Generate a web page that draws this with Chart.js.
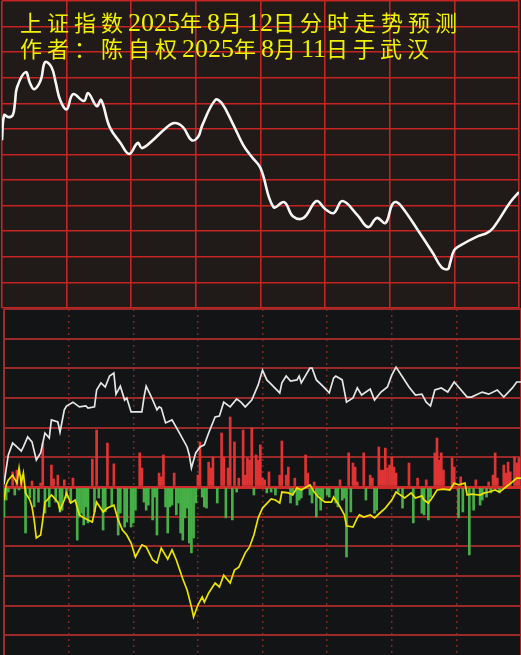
<!DOCTYPE html>
<html><head><meta charset="utf-8">
<script src="https://cdn.jsdelivr.net/npm/chart.js@4.4.1/dist/chart.umd.min.js"></script>
<style>
html,body{margin:0;padding:0;width:521px;height:655px;overflow:hidden;
  background:linear-gradient(#201a19 0px,#201a19 309px,#131416 309px,#131416 100%);}
#topChart{position:absolute;left:0;top:0;}
#bottomChart{position:absolute;left:0;top:308px;}
#title{position:absolute;left:20px;top:9px;z-index:5;color:#f0f000;
  font-family:"Noto Sans CJK SC",sans-serif;font-size:22px;line-height:25px;
  letter-spacing:5px;white-space:nowrap;}
#title .n{font-family:"Liberation Serif",serif;font-size:26px;letter-spacing:0;}
</style></head>
<body>
<div id="title"></div>
<canvas id="topChart" width="521" height="310"></canvas>
<canvas id="bottomChart" width="521" height="358"></canvas>
<script>
// ---- text ----
const titleLines = ["上证指数2025年8月12日分时走势预测", "作者：陈自权2025年8月11日于武汉"];

// ---- top panel: predicted intraday curve (minute 0..240, grid units 0..12) ----
const topMinutes = [0,1,3,5,6,7,11,13,15,18,20,23,25,27,30,33,38,40,44,46,50,55,59,63,65,70,76,80,84,88,91,93,99,102,107,112,116,120,126,131,135,140,146,150,154,158,165,170,174,178,181,183,186,193,200,204,207,208,210,213,221,225,228,236,240];
const topValues = [6.56,7.54,7.46,7.54,8.01,8.63,9.22,8.79,8.55,8.91,9.61,9.41,8.79,8.13,7.77,8.36,8.09,8.40,7.89,8.13,7.07,6.45,6.02,6.45,6.25,6.56,7.03,7.23,7.07,6.56,6.68,7.15,8.13,8.01,7.23,6.37,5.90,5.47,3.95,4.14,3.59,3.52,4.18,3.87,3.71,4.18,3.63,3.16,3.52,3.32,4.02,4.14,3.91,3.05,2.15,1.60,1.52,1.76,2.27,2.46,2.81,2.93,3.13,4.14,4.53];

// ---- bottom panel: white line ----
const priceMinutes = [0,1,2,4,6,8,9,11,13,15,17,19,21,22,25,26,28,29,32,35,38,39,42,43,45,47,49,51,52,54,56,57,59,64,65,66,68,71,72,73,75,78,82,85,86,87,89,91,93,95,98,100,102,105,108,110,112,115,118,120,122,124,128,129,131,133,136,137,138,142,143,145,148,151,153,154,157,159,162,164,166,170,172,175,178,180,182,185,188,191,194,196,198,200,203,206,209,211,215,217,222,225,229,232,236,238,240];
const priceValues = [0.10,0.60,1.08,1.48,1.35,1.21,1.35,1.69,1.52,0.91,1.15,1.82,1.65,2.26,2.19,1.85,2.60,2.73,2.86,2.70,2.73,2.66,2.70,3.27,3.51,3.37,3.74,3.84,3.13,3.40,2.93,3.00,2.53,2.53,3.03,3.40,3.10,2.60,2.70,2.66,2.16,2.26,1.75,1.35,1.08,0.64,1.15,1.35,1.42,1.82,2.36,2.39,2.86,2.70,2.97,2.86,2.70,2.93,3.44,3.94,3.61,3.47,3.17,3.51,3.74,3.57,3.61,3.74,3.51,4.01,4.01,3.61,3.40,3.17,3.67,3.74,3.61,2.86,3.00,3.34,3.10,3.30,2.93,3.20,3.37,3.77,4.04,3.71,3.37,3.10,3.13,2.86,2.73,3.27,3.34,3.20,3.54,3.37,3.03,3.03,3.20,3.13,3.27,3.03,3.34,3.54,3.54];

// ---- bottom panel: yellow line ----
const avgMinutes = [0,1,2,4,6,7,8,9,10,12,13,14,15,17,18,19,20,22,23,25,26,28,29,31,33,35,37,39,41,43,46,48,51,53,55,57,59,61,64,66,69,71,73,76,78,80,83,85,87,88,90,92,93,95,98,100,102,105,107,109,112,114,116,118,120,124,126,128,129,132,134,136,138,142,144,146,149,152,153,156,158,159,162,164,165,167,170,172,174,177,180,182,184,186,189,191,194,195,197,199,201,204,207,209,211,214,215,217,221,223,225,228,230,233,236,238,240];
const avgValues = [-0.44,0.07,0.24,0.40,0.13,0.64,0.13,0.47,-0.20,-0.44,-0.67,-1.11,-1.72,-1.62,-1.11,-0.51,-0.44,-0.27,-0.34,-0.51,-0.78,-0.44,-0.20,-0.54,-0.44,-0.94,-1.04,-1.11,-1.18,-0.51,-0.84,-0.71,-0.61,-1.11,-1.45,-1.62,-1.89,-2.36,-1.95,-2.02,-2.46,-2.56,-2.06,-2.43,-2.12,-2.46,-3.10,-3.47,-4.04,-4.38,-3.98,-3.71,-3.88,-3.57,-3.24,-3.37,-2.97,-3.24,-2.80,-2.70,-2.22,-2.02,-1.62,-1.04,-0.71,-0.40,-0.44,-0.54,-0.17,-0.20,-0.27,-0.03,-0.10,0.07,-0.17,-0.34,-0.51,-0.51,-0.34,-0.67,-0.94,-1.31,-1.35,-1.04,-0.94,-1.01,-0.94,-1.04,-0.91,-0.71,-0.44,-0.17,-0.27,-0.37,-0.20,-0.37,-0.30,-0.44,-0.54,-0.34,-0.10,-0.07,-0.10,0.13,0.07,0.13,-0.27,-0.24,-0.27,-0.20,-0.17,-0.10,-0.17,0.00,0.17,0.30,0.30];

// ---- bottom panel: red / green bars ----
const barMinutes = [0,1,2,4,5,6,7,8,10,12,13,14,16,17,18,19,21,22,23,24,25,26,27,28,29,31,32,34,35,36,37,38,39,41,42,43,44,46,47,48,50,51,53,54,56,57,59,60,61,63,64,65,66,67,69,70,71,72,73,74,75,76,77,78,79,80,81,82,83,84,85,86,87,88,89,90,91,92,93,94,95,96,97,99,101,102,103,104,105,106,107,108,109,111,112,113,114,115,116,117,118,119,120,121,122,123,124,126,128,129,131,132,133,134,135,136,137,138,140,141,142,143,144,145,146,147,148,150,151,154,155,156,157,158,159,160,161,162,163,164,167,168,170,171,172,173,174,175,176,177,178,179,180,181,182,183,185,188,190,192,194,195,196,197,198,200,201,202,203,204,208,209,211,212,213,216,218,219,221,222,224,225,226,227,228,229,230,232,233,234,235,237,238,239];
const barValues = [-1.01,-0.44,-0.17,0.51,-0.27,0.57,-0.10,0.40,-1.55,-0.37,0.20,-0.67,-0.51,0.13,1.48,-0.88,-0.67,0.74,0.27,-0.51,0.40,-0.84,-0.78,0.24,-0.37,-0.54,0.30,-1.79,-1.01,-0.88,-1.28,-0.67,-1.21,0.94,-0.84,1.92,-0.37,-1.45,-0.84,1.48,-0.67,0.78,-1.62,-0.88,-1.35,-1.18,-1.35,-1.21,-0.78,1.15,0.64,-0.51,-0.78,-0.61,-1.11,-0.34,-1.62,0.47,0.34,1.08,-0.67,-1.55,-0.67,-0.61,0.47,-0.94,-0.54,-1.55,-1.79,-1.04,-0.71,-1.89,-2.22,-1.72,-0.54,0.40,1.52,-0.34,-0.67,-0.71,0.84,0.64,1.01,-0.54,1.82,1.01,-1.04,0.64,2.36,-1.11,1.52,-0.17,0.30,1.92,0.40,0.98,0.91,1.99,-0.27,1.08,0.91,1.42,0.30,0.24,-0.20,0.51,-0.17,-0.27,0.40,1.55,0.40,0.67,-0.54,-0.27,0.30,-0.61,-0.44,-0.37,1.08,0.47,-0.27,-0.54,0.17,-1.01,-0.27,-0.78,-0.40,-0.27,-0.34,-0.54,-0.67,0.24,-0.44,-0.37,-2.36,1.15,-0.84,0.81,0.67,0.17,1.15,-0.44,0.40,0.30,-0.88,-0.78,1.35,0.57,0.57,1.31,0.64,0.74,1.01,0.67,0.47,-0.17,-0.71,0.81,-1.21,0.30,-0.88,-0.94,0.24,-1.11,-0.34,1.15,1.65,0.91,1.15,0.57,0.98,0.67,-1.04,0.34,-0.84,-2.29,-0.78,0.24,-0.61,-0.44,-0.34,0.17,-0.20,0.40,1.15,0.30,-0.20,0.74,0.47,0.84,0.51,1.01,0.81,0.98];

// ---- axis definitions ----
const minuteTicks = [0, 240, 30];   // min, max, step (30-minute grid)
const topGrid = [0, 12, 1];
const bottomGrid = [-6, 6, 1];

// title as real text
const titleEl = document.getElementById('title');
titleEl.innerHTML = titleLines.map(l => l.replace(/(\d+)/g, '<span class="n">$1</span>')).join('<br>');

const pts = (xs, ys) => xs.map((x, i) => ({x: x, y: ys[i]}));
const common = {
  responsive: false, animation: false, devicePixelRatio: 1,
  plugins: {legend: {display: false}, tooltip: {enabled: false}, title: {display: false}},
  events: []
};

new Chart(document.getElementById('topChart'), {
  type: 'line',
  data: {datasets: [{
    data: pts(topMinutes, topValues),
    borderColor: '#f6f6f6', borderWidth: 2.6, pointRadius: 0, tension: 0.4, fill: false
  }]},
  options: Object.assign({}, common, {
    layout: {padding: {left: 2, right: 2, top: 1, bottom: 2}},
    scales: {
      x: {type: 'linear', min: minuteTicks[0], max: minuteTicks[1],
          ticks: {display: false, stepSize: minuteTicks[2]},
          grid: {color: '#c62323', lineWidth: 1.6, drawTicks: false},
          border: {display: false}},
      y: {type: 'linear', min: topGrid[0], max: topGrid[1],
          ticks: {display: false, stepSize: topGrid[2]},
          grid: {color: '#c62323', lineWidth: 1.6, drawTicks: false},
          border: {display: false}}
    }
  })
});

const lastX = (minuteTicks[1] - minuteTicks[0]) / minuteTicks[2];
new Chart(document.getElementById('bottomChart'), {
  type: 'line',
  data: {datasets: [
    {type: 'line', data: pts(priceMinutes, priceValues), borderColor: '#e6e6e6', borderWidth: 1.7,
     pointRadius: 0, tension: 0, order: 1},
    {type: 'line', data: pts(avgMinutes, avgValues), borderColor: '#ece400', borderWidth: 1.7,
     pointRadius: 0, tension: 0, order: 2},
    {type: 'bar', data: pts(barMinutes, barValues), barThickness: 2, order: 3,
     backgroundColor: c => (c.raw && c.raw.y >= 0) ? '#e03434' : '#45b045'}
  ]},
  options: Object.assign({}, common, {
    layout: {padding: {left: 4, right: 0, top: 1, bottom: 1}},
    scales: {
      x: {type: 'linear', min: minuteTicks[0], max: minuteTicks[1], offset: false,
          ticks: {display: false, stepSize: minuteTicks[2]},
          grid: {offset: false, drawTicks: false,
                 color: c => (c.index === 0 || c.index === lastX) ? '#a02a2a' : '#7e2626',
                 lineWidth: c => (c.index === 0 || c.index === lastX) ? 2 : 1.5},
          border: {display: false, dash: c => (c.index === 0 || c.index === lastX) ? [] : [2, 4]}},
      y: {type: 'linear', min: bottomGrid[0], max: bottomGrid[1],
          ticks: {display: false, stepSize: bottomGrid[2]},
          grid: {drawTicks: false,
                 color: c => (c.tick && c.tick.value === 0) ? '#d02c2c' : '#9a2a2a',
                 lineWidth: c => (c.tick && c.tick.value === 0) ? 3 : 2},
          border: {display: false}}
    }
  })
});
</script>
</body></html>
